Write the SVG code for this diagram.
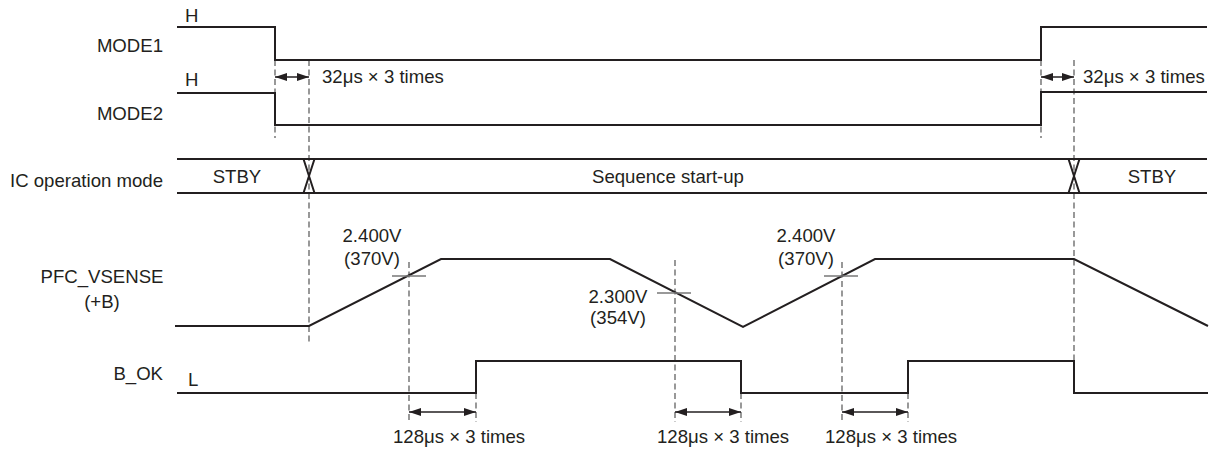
<svg xmlns="http://www.w3.org/2000/svg" width="1214" height="450" viewBox="0 0 1214 450">
<style>
text{font-family:"Liberation Sans",Arial,sans-serif;font-size:18.6px;fill:#231f20}
.lbl{text-anchor:end}
.mid{text-anchor:middle}
.sig{fill:none;stroke:#231f20;stroke-width:2;stroke-linejoin:miter}
.dash{fill:none;stroke:#555;stroke-width:1.2;stroke-dasharray:6 3.5}
.tick{fill:none;stroke:#777;stroke-width:1.5}
.dim{fill:none;stroke:#231f20;stroke-width:1.5;marker-start:url(#ah);marker-end:url(#ah)}
</style>
<defs>
<marker id="ah" viewBox="0 0 12 8" refX="12" refY="4" markerWidth="12" markerHeight="8" markerUnits="userSpaceOnUse" orient="auto-start-reverse">
<path d="M0,0 L12,4 L0,8 Z" fill="#231f20"/>
</marker>
</defs>
<g id="labels">
<text class="lbl" x="163" y="52">MODE1</text>
<text class="lbl" x="163" y="120">MODE2</text>
<text class="lbl" x="163" y="187">IC operation mode</text>
<text class="mid" x="102" y="283">PFC_VSENSE</text>
<text class="mid" x="102" y="308">(+B)</text>
<text class="lbl" x="163" y="380">B_OK</text>
</g>
<g id="guides">
<line class="dash" x1="275" y1="60" x2="275" y2="138"/>
<line class="dash" x1="309" y1="60" x2="309" y2="342"/>
<line class="dash" x1="1041" y1="60" x2="1041" y2="138"/>
<line class="dash" x1="1074" y1="60" x2="1074" y2="361"/>
<line class="dash" x1="409" y1="262" x2="409" y2="422"/>
<line class="dash" x1="476" y1="393" x2="476" y2="422"/>
<line class="dash" x1="675" y1="260" x2="675" y2="422"/>
<line class="dash" x1="741" y1="393" x2="741" y2="422"/>
<line class="dash" x1="842" y1="262" x2="842" y2="422"/>
<line class="dash" x1="908" y1="393" x2="908" y2="422"/>
</g>
<g id="mode1">
<text x="185" y="22">H</text>
<polyline class="sig" points="177,27 275,27 275,60 1041,60 1041,27 1207,27"/>
</g>
<g id="mode2">
<text x="185" y="86">H</text>
<polyline class="sig" points="177,93 275,93 275,125 1041,125 1041,92 1207,92"/>
</g>
<g id="icmode">
<line class="sig" x1="177" y1="159" x2="1207" y2="159"/>
<line class="sig" x1="177" y1="193" x2="1207" y2="193"/>
<path class="sig" d="M303.5,159 L314.5,193 M314.5,159 L303.5,193"/>
<path class="sig" d="M1068.5,159 L1079.5,193 M1079.5,159 L1068.5,193"/>
<text class="mid" x="237" y="183">STBY</text>
<text class="mid" x="668" y="183">Sequence start-up</text>
<text class="mid" x="1152" y="183">STBY</text>
</g>
<g id="pfc">
<polyline class="sig" points="175,326 309,326 441,259 610,259 743,327 875,259 1074,259 1208,326"/>
<line class="tick" x1="392" y1="276" x2="426" y2="276"/>
<line class="tick" x1="657" y1="293" x2="691" y2="293"/>
<line class="tick" x1="824" y1="276" x2="858" y2="276"/>
<text class="mid" x="372" y="242">2.400V</text>
<text class="mid" x="372" y="265">(370V)</text>
<text class="mid" x="618" y="303">2.300V</text>
<text class="mid" x="618" y="324">(354V)</text>
<text class="mid" x="806" y="242">2.400V</text>
<text class="mid" x="806" y="265">(370V)</text>
</g>
<g id="bok">
<text x="188" y="386">L</text>
<polyline class="sig" points="177,393 476,393 476,361 741,361 741,393 908,393 908,361 1074,361 1074,393 1208,393"/>
</g>
<g id="connectors">
<line class="dim" x1="275" y1="77" x2="309" y2="77"/>
<line class="dim" x1="1041" y1="77" x2="1074" y2="77"/>
<line class="dim" x1="409" y1="412" x2="476" y2="412"/>
<line class="dim" x1="675" y1="412" x2="741" y2="412"/>
<line class="dim" x1="842" y1="412" x2="908" y2="412"/>
</g>
<g id="timing-labels">
<text x="322" y="83">32μs × 3 times</text>
<text x="1083" y="83">32μs × 3 times</text>
<text x="393" y="443">128μs × 3 times</text>
<text x="657" y="443">128μs × 3 times</text>
<text x="825" y="443">128μs × 3 times</text>
</g>
</svg>
